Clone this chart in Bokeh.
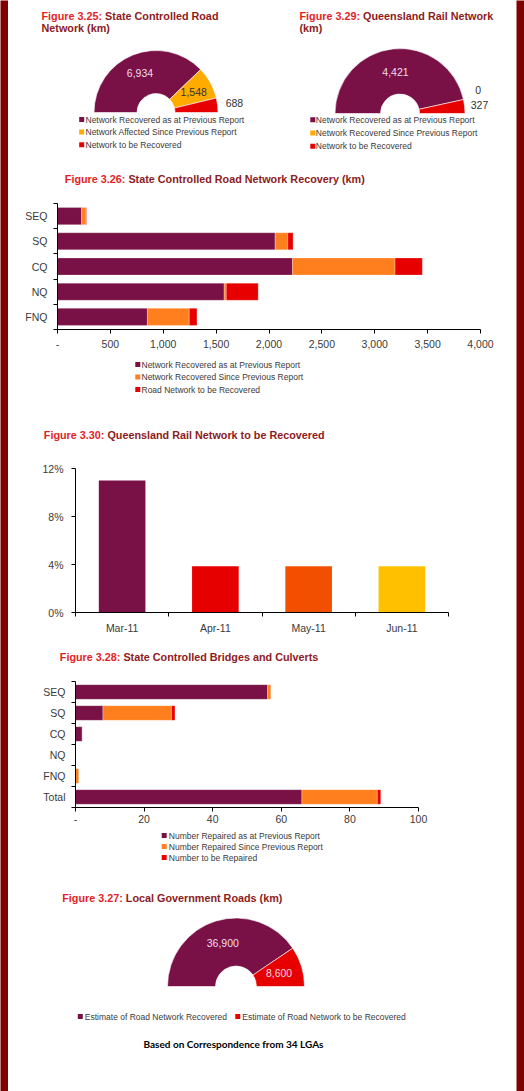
import numpy as np
from bokeh.plotting import figure
from bokeh.models import (Range1d, FixedTicker, NumeralTickFormatter, PrintfTickFormatter,
                          ColumnDataSource)
from bokeh.layouts import column, row
from bokeh.embed import file_html
from bokeh.resources import INLINE
from bokeh.core.properties import value

# ---------------- data ----------------
road_labels = ["Network Recovered as at Previous Report",
               "Network Affected Since Previous Report",
               "Network to be Recovered"]
road_values = [6934, 1548, 688]

rail_labels = ["Network Recovered as at Previous Report",
               "Network Recovered Since Previous Report",
               "Network to be Recovered"]
rail_values = [4421, 0, 327]

regions = ["SEQ", "SQ", "CQ", "NQ", "FNQ"]
road_prev = [228, 2058, 2222, 1576, 850]
road_since = [42, 120, 970, 20, 396]
road_todo = [5, 50, 258, 302, 73]
recovery_series = ["Network Recovered as at Previous Report",
                   "Network Recovered Since Previous Report",
                   "Road Network to be Recovered"]
road_km_ticks = [0, 500, 1000, 1500, 2000, 2500, 3000, 3500, 4000]

months = ["Mar-11", "Apr-11", "May-11", "Jun-11"]
rail_pct = [11.0, 3.85, 3.85, 3.85]
pct_ticks = [0, 4, 8, 12]

bridge_regions = ["SEQ", "SQ", "CQ", "NQ", "FNQ", "Total"]
bridge_prev = [56, 8, 2, 0, 0, 66]
bridge_since = [1, 20, 0, 0, 1, 22]
bridge_todo = [0, 1, 0, 0, 0, 1]
bridge_series = ["Number Repaired as at Previous Report",
                 "Number Repaired Since Previous Report",
                 "Number to be Repaired"]
bridge_ticks = [0, 20, 40, 60, 80, 100]

lga_labels = ["Estimate of Road Network Recovered",
              "Estimate of Road Network to be Recovered"]
lga_values = [36900, 8600]
lga_note = "Based on Correspondence from 34 LGAs"

# ---------------- style ----------------
PURPLE = "#7A1146"
AMBER = "#FFAB00"
RED = "#E60000"
ORANGE = "#FF7F1E"
MAY_C = "#F25000"
JUN_C = "#FFC000"
TITLE_RED = "#E41E26"
TITLE_DARK = "#8E1A22"
TEXT = "#3A3A3A"
LIGHT = "#F2DDE6"
BORDER = "#800000"
FONT = "Liberation Sans"
TITLE_SIZE = "10.8px"
PREFIX_W = 63.6
COL_W = 508


def no_align(p):
    if "frame_align" in p.properties():
        p.frame_align = False
    return p


def pixel_fig(w, h):
    p = figure(width=w, height=h, x_range=Range1d(0, w), y_range=Range1d(0, h),
               x_axis_location=None, y_axis_location=None, min_border=0,
               output_backend="svg", toolbar_location=None)
    p.grid.visible = False
    p.outline_line_color = None
    return no_align(p)


def strip_fig(w, h):
    p = pixel_fig(w, h)
    p.background_fill_color = BORDER
    p.border_fill_color = BORDER
    return p


def pix_title(p, x, y, prefix, rest, line2=None, dy=12.5):
    common = dict(text_font=value(FONT), text_font_style="bold", text_font_size=TITLE_SIZE,
                  text_baseline="middle", text_align="left")
    p.text(x=[x], y=[y], text=[prefix], text_color=TITLE_RED, **common)
    p.text(x=[x + PREFIX_W], y=[y], text=[rest], text_color=TITLE_DARK, **common)
    if line2:
        p.text(x=[x], y=[y - dy], text=[line2], text_color=TITLE_DARK, **common)


def half_donut(p, cx, cy, r_in, r_out, values, colors, lab_colors, r_lab_in, r_lab_out,
               small=0.1, zero_lift=6):
    vals = np.asarray(values, dtype=float)
    cum = np.concatenate([[0.0], np.cumsum(vals)])
    ang = np.pi * (1.0 - cum / cum[-1])
    start, end = ang[1:], ang[:-1]
    keep = vals > 0
    src = ColumnDataSource(dict(start=start[keep], end=end[keep],
                                color=[c for c, k in zip(colors, keep) if k]))
    p.annular_wedge(x=cx, y=cy, inner_radius=r_in, outer_radius=r_out,
                    start_angle="start", end_angle="end", fill_color="color",
                    line_color="white", line_width=0.6, source=src)
    mid = (start + end) / 2
    frac = vals / cum[-1]
    rad = np.where(frac < small, r_lab_out, r_lab_in)
    lx = cx + rad * np.cos(mid)
    ly = cy + rad * np.sin(mid) + np.where(vals == 0, zero_lift, 0)
    p.text(x=lx, y=ly, text=[f"{int(v):,}" for v in values], text_color=lab_colors,
           text_font=value(FONT), text_font_size="10.5px",
           text_align="center", text_baseline="middle")


def pix_legend(p, x_sq, x_txt, y0, dy, labels, colors, dx=0):
    n = len(labels)
    xs = [x_sq + i * dx for i in range(n)]
    ys = [y0 - i * dy for i in range(n)]
    p.scatter(x=xs, y=ys, marker="square", size=5, fill_color=colors, line_color=None)
    p.text(x=[x + (x_txt - x_sq) for x in xs], y=ys, text=labels, text_color=TEXT,
           text_font=value(FONT), text_font_size="8.5px",
           text_align="left", text_baseline="middle")


def style_axis(ax, tick_out, minor_out, standoff):
    ax.axis_line_color = "black"
    ax.axis_line_width = 1
    ax.major_tick_out = tick_out
    ax.major_tick_in = 0
    ax.minor_tick_out = minor_out
    ax.minor_tick_in = 0
    ax.major_tick_line_color = "black" if tick_out else None
    ax.minor_tick_line_color = "black"
    ax.major_label_text_font = FONT
    ax.major_label_text_font_size = "10.5px"
    ax.major_label_text_color = TEXT
    ax.major_label_standoff = standoff


def chart_fig(h, x_range, y_range, left, right, top, bottom):
    p = figure(width=COL_W, height=h, x_range=x_range, y_range=y_range,
               min_border_left=left, min_border_right=right,
               min_border_top=top, min_border_bottom=bottom,
               output_backend="svg", toolbar_location=None)
    p.grid.visible = False
    p.outline_line_color = None
    return no_align(p)


def stacked_hbar(p, ypos, series, colors, height):
    left = np.zeros(len(ypos))
    for vals, col in zip(series, colors):
        right = left + np.asarray(vals, dtype=float)
        p.hbar(y=ypos, left=left, right=right, height=height, fill_color=col,
               line_color="white", line_alpha=0.45, line_width=0.6)
        left = right


# ---------------- Figures 3.25 / 3.29 ----------------
d1 = pixel_fig(254, 158)
pix_title(d1, 33, 143, "Figure 3.25:", "State Controlled Road", "Network (km)")
half_donut(d1, 147.5, 46, 19, 62, road_values, [PURPLE, AMBER, RED],
           [LIGHT, "#333333", "#333333"], 43, 79)
pix_legend(d1, 73.2, 77, 39, 12.6, road_labels, [PURPLE, AMBER, RED])

d2 = pixel_fig(254, 158)
pix_title(d2, 37, 143, "Figure 3.29:", "Queensland Rail Network", "(km)")
half_donut(d2, 137.5, 45, 19.5, 65, rail_values, [PURPLE, AMBER, RED],
           [LIGHT, "#333333", "#333333"], 42, 80)
pix_legend(d2, 50.3, 53.3, 38.7, 13.2, rail_labels, [PURPLE, AMBER, RED])

# ---------------- Figure 3.26 ----------------
t26 = pixel_fig(COL_W, 40)
pix_title(t26, 56.3, 19.7, "Figure 3.26:", "State Controlled Road Network Recovery (km)")

n = len(regions)
ypos = np.arange(n)[::-1]
f26 = chart_fig(154, Range1d(0, road_km_ticks[-1]), Range1d(-0.5, n - 0.5), 49, 36, 5, 23)
stacked_hbar(f26, ypos, [road_prev, road_since, road_todo], [PURPLE, ORANGE, RED], 0.68)
xa = f26.xaxis[0]
xa.ticker = FixedTicker(ticks=road_km_ticks)
xa.formatter = NumeralTickFormatter(format="0,0")
xa.major_label_overrides = {0: "-"}
style_axis(xa, 4, 0, 6)
ya = f26.yaxis[0]
ya.ticker = FixedTicker(ticks=[int(v) for v in ypos],
                        minor_ticks=[i - 0.5 for i in range(n + 1)])
ya.major_label_overrides = {int(v): r for v, r in zip(ypos, regions)}
style_axis(ya, 0, 4, 6)

# legend of 3.26 + title of 3.30
g1 = pixel_fig(COL_W, 110)
pix_legend(g1, 129.3, 133, 98, 12.5, recovery_series, [PURPLE, ORANGE, RED])
pix_title(g1, 35.3, 27.7, "Figure 3.30:", "Queensland Rail Network to be Recovered")

# ---------------- Figure 3.30 ----------------
m = len(months)
xpos = np.arange(m)
f30 = chart_fig(180, Range1d(-0.5, m - 0.5), Range1d(pct_ticks[0], pct_ticks[-1]), 67, 68, 6, 30)
f30.vbar(x=xpos, top=rail_pct, width=0.5, fill_color=[PURPLE, RED, MAY_C, JUN_C],
         line_color=None)
xa = f30.xaxis[0]
xa.ticker = FixedTicker(ticks=[int(v) for v in xpos],
                        minor_ticks=[i - 0.5 for i in range(m + 1)])
xa.major_label_overrides = {int(v): mo for v, mo in zip(xpos, months)}
style_axis(xa, 0, 4, 5)
ya = f30.yaxis[0]
ya.ticker = FixedTicker(ticks=pct_ticks)
ya.formatter = PrintfTickFormatter(format="%d%%")
style_axis(ya, 4, 0, 8)

# title of 3.28
t28 = pixel_fig(COL_W, 35)
pix_title(t28, 51.3, 20.3, "Figure 3.28:", "State Controlled Bridges and Culverts")

# ---------------- Figure 3.28 ----------------
k = len(bridge_regions)
bpos = np.arange(k)[::-1]
f28 = chart_fig(152, Range1d(bridge_ticks[0], bridge_ticks[-1]), Range1d(-0.5, k - 0.5),
                67, 98, 4, 22)
stacked_hbar(f28, bpos, [bridge_prev, bridge_since, bridge_todo], [PURPLE, ORANGE, RED], 0.7)
xa = f28.xaxis[0]
xa.ticker = FixedTicker(ticks=bridge_ticks)
xa.major_label_overrides = {0: "-"}
style_axis(xa, 4, 0, 3)
ya = f28.yaxis[0]
ya.ticker = FixedTicker(ticks=[int(v) for v in bpos],
                        minor_ticks=[i - 0.5 for i in range(k + 1)])
ya.major_label_overrides = {int(v): r for v, r in zip(bpos, bridge_regions)}
style_axis(ya, 0, 4, 6)

# legend of 3.28 + Figure 3.27
g2 = pixel_fig(COL_W, 262)
pix_legend(g2, 155.7, 160.3, 256, 11, bridge_series, [PURPLE, ORANGE, RED])
pix_title(g2, 53.7, 193.7, "Figure 3.27:", "Local Government Roads (km)")
half_donut(g2, 227.5, 105, 20.5, 68.5, lga_values, [PURPLE, RED], [LIGHT, LIGHT], 45, 80)
pix_legend(g2, 71.8, 76.3, 75, 0, lga_labels, [PURPLE, RED], dx=157.5)
g2.text(x=[225], y=[48], text=[lga_note], text_color="black", text_font=value("Lato"),
        text_font_style="bold", text_font_size="10px", text_align="center",
        text_baseline="middle")

middle = column(row(d1, d2, spacing=0), t26, f26, g1, f30, t28, f28, g2, spacing=0)
layout = row(strip_fig(8, 1091), middle, strip_fig(8, 1091), spacing=0)

open("out.html", "w").write(file_html(layout, INLINE, title="Queensland recovery charts"))
